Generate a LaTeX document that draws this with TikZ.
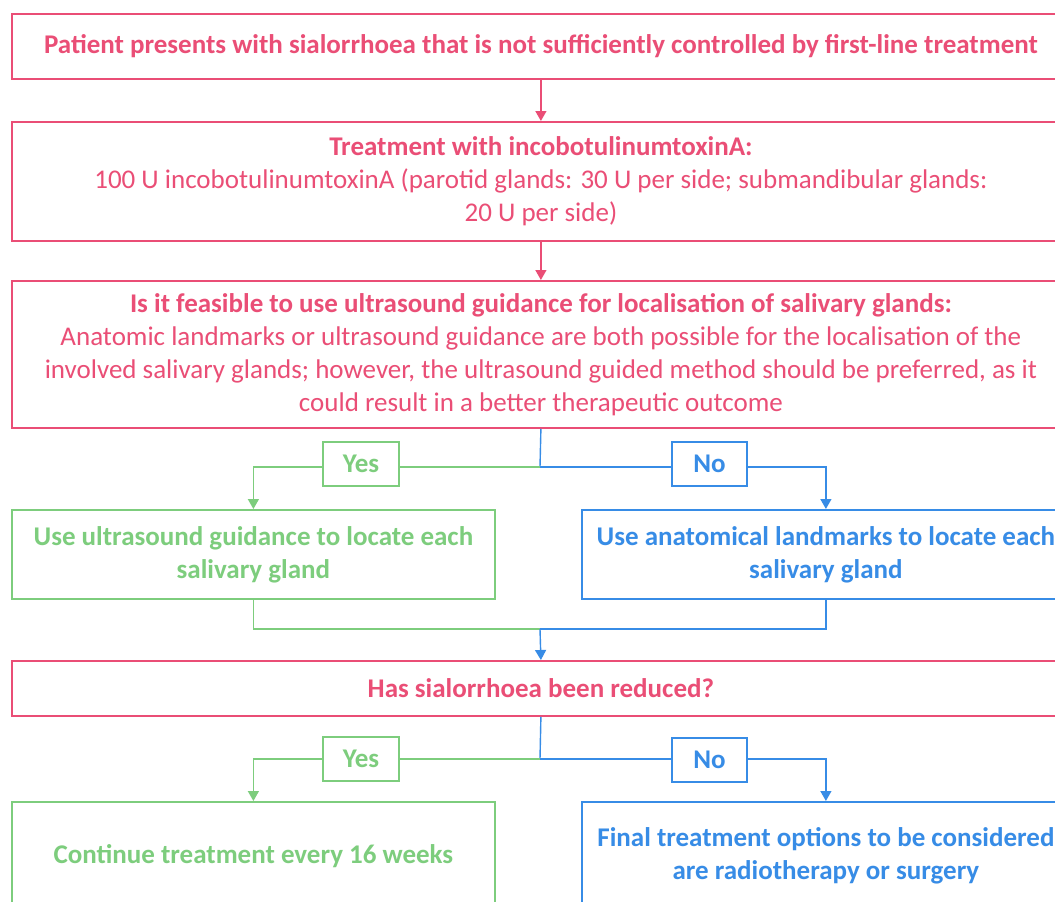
\documentclass[tikz,border=0pt]{standalone}
\usepackage{fontspec}
\setmainfont{Carlito}
\usetikzlibrary{arrows.meta}
\definecolor{cpink}{RGB}{234,78,118}
\definecolor{cgreen}{RGB}{125,205,125}
\definecolor{cblue}{RGB}{55,140,230}
\begin{document}
\begin{tikzpicture}[x=1pt,y=-1pt,
  box/.style={draw=#1, text=#1, line width=1.8pt, inner sep=0pt, anchor=north west,
    align=center, font=\fontsize{27}{33}\selectfont},
  lab/.style={draw=#1, text=#1, line width=1.6pt, inner sep=0pt, minimum width=76pt,
    minimum height=44pt, font=\fontsize{27}{33}\selectfont\bfseries},
  con/.style={draw=#1, line width=1.4pt},
  arr/.style={draw=#1, line width=1.4pt, -{Triangle[length=10pt,width=11pt]}}]
\useasboundingbox (0,0) rectangle (1055,902);
\fill[white] (0,0) rectangle (1055,902);
\clip (0,0) rectangle (1055,902);

\node[box=cpink, minimum width=1058pt, minimum height=65pt] (b1) at (11,13)
  {\bfseries Patient presents with sialorrhoea that is not sufficiently controlled by first-line treatment};
\node[box=cpink, minimum width=1058pt, minimum height=119pt] (b2) at (11,121)
  {\bfseries Treatment with incobotulinumtoxinA:\\
   100 U incobotulinumtoxinA (parotid glands: 30 U per side; submandibular glands:\\
   20 U per side)};
\node[box=cpink, minimum width=1058pt, minimum height=147pt] (b3) at (11,280)
  {\bfseries Is it feasible to use ultrasound guidance for localisation of salivary glands:\\
   Anatomic landmarks or ultrasound guidance are both possible for the localisation of the\\
   involved salivary glands; however, the ultrasound guided method should be preferred, as it\\
   could result in a better therapeutic outcome};
\node[box=cgreen, minimum width=483pt, minimum height=89pt] (b4) at (11,509)
  {\bfseries Use ultrasound guidance to locate each\\ \bfseries salivary gland};
\node[box=cblue, minimum width=488pt, minimum height=89pt] (b5) at (581,509)
  {\bfseries Use anatomical landmarks to locate each\\ \bfseries salivary gland};
\node[box=cpink, minimum width=1058pt, minimum height=55pt] (b6) at (11,660)
  {\bfseries Has sialorrhoea been reduced?};
\node[box=cgreen, minimum width=483pt, minimum height=108pt] (b7) at (11,801)
  {\bfseries Continue treatment every 16 weeks};
\node[box=cblue, minimum width=488pt, minimum height=108pt] (b8) at (581,801)
  {\bfseries Final treatment options to be considered\\ \bfseries are radiotherapy or surgery};

\node[lab=cgreen] (y1) at (361,464) {Yes};
\node[lab=cblue, minimum width=75pt] (n1) at (709.5,464) {No};
\node[lab=cgreen] (y2) at (361,759) {Yes};
\node[lab=cblue, minimum width=75pt] (n2) at (709.5,760) {No};

\coordinate (j1) at (540,467);
\coordinate (j2) at (540,629);
\coordinate (j3) at (540,759);

\draw[arr=cpink] (b1) -- (b2);
\draw[arr=cpink] (b2) -- (b3);

\draw[con=cblue] (b3.south) -- (j1);
\draw[con=cgreen] (j1) -- (j1 -| y1.east);
\draw[arr=cgreen] (j1 -| y1.west) -| (b4.north);
\draw[con=cblue] (j1) -- (j1 -| n1.west);
\draw[arr=cblue] (j1 -| n1.east) -| (b5.north);

\draw[con=cgreen] (b4.south) |- (j2);
\draw[con=cblue] (b5.south) |- (j2);
\draw[arr=cblue] (j2) -- (b6.north);

\draw[con=cblue] (b6.south) -- (j3);
\draw[con=cgreen] (j3) -- (j3 -| y2.east);
\draw[arr=cgreen] (j3 -| y2.west) -| (b7.north);
\draw[con=cblue] (j3) -- (j3 -| n2.west);
\draw[arr=cblue] (j3 -| n2.east) -| (b8.north);
\end{tikzpicture}
\end{document}
